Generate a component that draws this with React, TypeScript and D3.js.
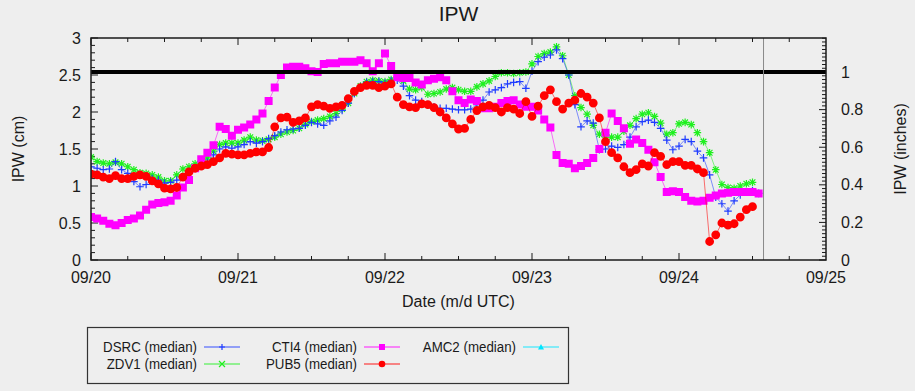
import React from "react";
import * as d3 from "d3";

// hourly medians, first value at 09/20 00 UTC
const startTime = Date.UTC(2019, 8, 20);
const endTime = Date.UTC(2019, 8, 25);
const nowHour = 109.8;
const thresholdInches = 1;

const dsrc = [
  1.26, 1.24, 1.22, 1.23, 1.33, 1.22, 1.17, 1.06, 0.99, 1.02, 1.1, 1.08, 1.04, 1.05, 1.08, 1.12,
  1.18, 1.24, 1.28, 1.32, 1.42, 1.5, 1.53, 1.51, 1.53, 1.56, 1.6, 1.58, 1.6, 1.64, 1.68, 1.73,
  1.76, 1.77, 1.78, 1.82, 1.86, 1.84, 1.82, 1.88, 1.93, 2.02, 2.12, 2.25, 2.34, 2.4, 2.41, 2.41,
  2.39, 2.42, 2.43, 2.35, 2.22, 2.16, 2.14, 2.1, 2.07, 2.05, 2.05, 2.04, 2.03, 2.03, 2.04, 2.1,
  2.16, 2.27, 2.3, 2.33, 2.38, 2.4, 2.41, 2.32, 2.55, 2.68, 2.74, 2.77, 2.84, 2.72, 2.5, 2.1,
  1.8, 1.88, 1.85, 1.49, 1.5, 1.54, 1.52, 1.56, 1.66, 1.8, 1.87, 1.89, 1.86, 1.78, 1.62, 1.49,
  1.54, 1.63, 1.6, 1.47, 1.38, 1.15, 0.85, 0.76, 0.66, 0.8, 0.88, 0.92, 0.94, 0.9,
];

const zdv1 = [
  1.39, 1.33, 1.31, 1.3, 1.32, 1.3, 1.26, 1.22, 1.18, 1.17, 1.15, 1.12, 1.07, 1.07, 1.15, 1.23,
  1.26, 1.3, 1.34, 1.38, 1.47, 1.56, 1.58, 1.58, 1.58, 1.62, 1.66, 1.62, 1.61, 1.63, 1.66, 1.7,
  1.73, 1.75, 1.78, 1.83, 1.87, 1.89, 1.91, 1.94, 1.98, 2.04, 2.12, 2.25, 2.35, 2.41, 2.43, 2.42,
  2.41, 2.44, 2.47, 2.42, 2.31, 2.3, 2.33, 2.24, 2.25, 2.27, 2.31, 2.33, 2.3, 2.28, 2.28, 2.34,
  2.38, 2.42, 2.48, 2.53, 2.53, 2.52, 2.53, 2.54, 2.65, 2.75, 2.79, 2.81, 2.88, 2.76, 2.5, 2.22,
  2.06, 1.97, 1.82, 1.7, 1.66, 1.66, 1.66, 1.74, 1.82, 1.91, 1.97, 1.99, 1.94, 1.85, 1.7, 1.72,
  1.84, 1.86, 1.83, 1.72, 1.6, 1.45, 1.22, 1.02, 0.98, 0.97, 1.0, 1.03, 1.05,
];

const cti4 = [
  0.58, 0.56, 0.53, 0.49, 0.47, 0.5, 0.54, 0.56, 0.6, 0.68, 0.75, 0.77, 0.78, 0.8, 0.87, 0.98,
  1.08, 1.24, 1.36, 1.45, 1.55, 1.8, 1.77, 1.68, 1.76, 1.79, 1.83, 1.9, 1.98, 2.15, 2.33, 2.5,
  2.6, 2.61, 2.61, 2.59, 2.55, 2.54, 2.65, 2.66, 2.66, 2.68, 2.68, 2.68, 2.7, 2.66, 2.55, 2.66,
  2.79, 2.62, 2.47, 2.46, 2.46, 2.4, 2.37, 2.43, 2.45, 2.47, 2.43, 2.28, 2.16, 2.12, 2.17, 2.15,
  2.05, 2.05, 2.07, 2.12, 2.15, 2.16, 2.1, 2.07, 2.07, 2.02, 1.9, 1.79, 1.42, 1.31, 1.3, 1.24,
  1.27, 1.31, 1.38, 1.5, 1.72, 1.98, 1.88, 1.78, 1.57, 1.63, 1.58, 1.49, 1.32, 1.12, 0.92, 0.93,
  0.92, 0.85, 0.8, 0.79, 0.8, 0.84, 0.87, 0.9, 0.91, 0.92, 0.92, 0.92, 0.92, 0.9,
];

const pub5 = [
  1.16, 1.15, 1.12, 1.1, 1.14, 1.1, 1.1, 1.13, 1.15, 1.13, 1.07, 1.03, 0.97, 0.96, 0.98, 1.12,
  1.19, 1.24, 1.27, 1.29, 1.33, 1.38, 1.44, 1.43, 1.42, 1.42, 1.44, 1.46, 1.46, 1.52, 1.8, 1.92,
  1.93, 1.86, 1.88, 1.92, 2.07, 2.1, 2.08, 2.05, 2.07, 2.09, 2.18, 2.28, 2.33, 2.36, 2.36, 2.33,
  2.35, 2.38, 2.2, 2.1, 2.07, 2.06, 2.11, 2.1, 2.06, 2.0, 1.92, 1.84, 1.77, 1.78, 1.9, 2.02,
  2.07, 2.09, 2.06, 2.0, 2.06, 2.04, 1.98, 2.14, 1.94, 2.08, 2.22, 2.3, 2.14, 2.04, 2.12, 2.16,
  2.25, 2.2, 2.12, 1.92, 1.6, 1.45, 1.38, 1.26, 1.18, 1.22, 1.3, 1.27, 1.45, 1.4, 1.29, 1.33,
  1.33, 1.28, 1.28, 1.23, 1.18, 0.25, 0.34, 0.5, 0.47, 0.49, 0.58, 0.68, 0.72,
];

const amc2: number[] = [];

const seriesNames = ["DSRC (median)", "ZDV1 (median)", "CTI4 (median)", "PUB5 (median)", "AMC2 (median)"];
const seriesColors = ["#1f3cff", "#1ef01e", "#ff00ff", "#ff0000", "#00e5ff"];
const seriesShapes = ["plus", "star", "square", "circle", "triangle"];
const legendShapes = ["plus", "times", "square", "circle", "triangle"];
const seriesData = [dsrc, zdv1, cti4, pub5, amc2];
const drawOrder = [1, 0, 2, 3, 4];

const cmTicks = [0, 0.5, 1, 1.5, 2, 2.5, 3];
const inchTicks = [0, 0.2, 0.4, 0.6, 0.8, 1];

const W = 915;
const H = 391;
const margin = { top: 38, right: 89, bottom: 131, left: 91 };
const font = "'Liberation Sans', Arial, Helvetica, sans-serif";
const ink = "#1a1a1a";

function markerPath(shape: string, x: number, y: number, s: number) {
  const plus = `M${x - s},${y}h${2 * s}M${x},${y - s}v${2 * s}`;
  const k = s * 0.75;
  const times = `M${x - k},${y - k}l${2 * k},${2 * k}M${x - k},${y + k}l${2 * k},${-2 * k}`;
  if (shape === "plus") return plus;
  if (shape === "times") return `M${x - s},${y - s}l${2 * s},${2 * s}M${x - s},${y + s}l${2 * s},${-2 * s}`;
  if (shape === "star") return plus + times;
  if (shape === "square") return `M${x - s},${y - s}h${2 * s}v${2 * s}h${-2 * s}Z`;
  if (shape === "triangle") return `M${x},${y - s}L${x + s},${y + s * 0.8}L${x - s},${y + s * 0.8}Z`;
  return `M${x - s},${y}a${s},${s} 0 1,0 ${2 * s},0a${s},${s} 0 1,0 ${-2 * s},0`;
}

const App = () => {
  const x0 = margin.left;
  const x1 = W - margin.right;
  const y0 = H - margin.bottom;
  const y1 = margin.top;

  const x = d3.scaleUtc().domain([new Date(startTime), new Date(endTime)]).range([x0, x1]);
  const y = d3.scaleLinear().domain([0, 3]).range([y0, y1]);
  const yIn = d3.scaleLinear().domain([0, 3 / 2.54]).range([y0, y1]);
  const fmt = d3.utcFormat("%m/%d");
  const hourTime = (i: number) => d3.utcMinute.offset(new Date(startTime), Math.round(i * 60));

  const days = d3.utcDay.range(new Date(startTime), d3.utcHour.offset(new Date(endTime), 1));
  const quarters = d3.utcHour.every(6)!.range(new Date(startTime), new Date(endTime));
  const cmMinor = d3.range(0, 3.001, 0.1);
  const inMinor = d3.range(0, 1.181, 0.02);

  const line = d3
    .line<number>()
    .x((_, i) => x(hourTime(i)))
    .y((d) => y(d));

  const legendCols = [197, 357, 516];
  const legendRows = [347, 364];

  return (
    <svg width={W} height={H} style={{ position: "absolute", left: 0, top: 0, display: "block" }} fontFamily={font}>
      <rect width={W} height={H} fill="#eeeeee" />
      <defs>
        <clipPath id="plotClip">
          <rect x={x0} y={y1} width={x1 - x0} height={y0 - y1} />
        </clipPath>
      </defs>

      <text x={(x0 + x1) / 2} y={21} textAnchor="middle" fontSize={21} fill={ink}>
        IPW
      </text>

      {/* ticks */}
      <g stroke={ink} strokeWidth={1}>
        {quarters.map((t, i) => {
          const major = t.getUTCHours() === 0;
          const len = major ? 7 : 4;
          return (
            <g key={"q" + i}>
              <line x1={x(t)} x2={x(t)} y1={y0} y2={y0 - len} />
              <line x1={x(t)} x2={x(t)} y1={y1} y2={y1 + len} />
            </g>
          );
        })}
        {cmMinor.map((v, i) => {
          const major = Math.abs(v * 2 - Math.round(v * 2)) < 1e-6;
          return <line key={"c" + i} x1={x0} x2={x0 + (major ? 7 : 4)} y1={y(v)} y2={y(v)} />;
        })}
        {inMinor.map((v, i) => {
          const major = Math.abs(v * 5 - Math.round(v * 5)) < 1e-6;
          return <line key={"n" + i} x1={x1} x2={x1 - (major ? 7 : 4)} y1={yIn(v)} y2={yIn(v)} />;
        })}
      </g>

      {/* data */}
      <g clipPath="url(#plotClip)">
        {drawOrder.map((si) => {
          const data = seriesData[si];
          if (!data.length) return null;
          const c = seriesColors[si];
          const shape = seriesShapes[si];
          const filled = shape === "square" || shape === "circle";
          const s = shape === "circle" ? 4.4 : shape === "square" ? 4 : 3.8;
          return (
            <g key={si}>
              <path d={line(data) || ""} fill="none" stroke={c} strokeOpacity={0.55} strokeWidth={1} />
              <path
                d={data.map((v, i) => markerPath(shape, x(hourTime(i)), y(v), s)).join("")}
                fill={filled ? c : "none"}
                stroke={filled ? "none" : c}
                strokeWidth={1.2}
              />
            </g>
          );
        })}
      </g>

      <line x1={x0} x2={x1} y1={yIn(thresholdInches)} y2={yIn(thresholdInches)} stroke="#000" strokeWidth={4} />
      <line
        x1={x(hourTime(nowHour))}
        x2={x(hourTime(nowHour))}
        y1={y1}
        y2={y0}
        stroke="#8a8a8a"
        strokeWidth={1}
      />

      <rect x={x0} y={y1} width={x1 - x0} height={y0 - y1} fill="none" stroke={ink} strokeWidth={1.5} />

      {/* tick labels */}
      <g fontSize={16} fill={ink}>
        {days.map((d, i) => (
          <text key={"d" + i} x={x(d)} y={y0 + 23} textAnchor="middle">
            {fmt(d)}
          </text>
        ))}
        {cmTicks.map((v) => (
          <text key={"l" + v} x={x0 - 10} y={y(v)} dy="0.35em" textAnchor="end">
            {v}
          </text>
        ))}
        {inchTicks.map((v) => (
          <text key={"r" + v} x={x1 + 15} y={yIn(v)} dy="0.35em" textAnchor="start">
            {v}
          </text>
        ))}
      </g>

      <text x={(x0 + x1) / 2} y={307} textAnchor="middle" fontSize={16} fill={ink}>
        Date (m/d UTC)
      </text>
      <text
        transform={`translate(24,${(y0 + y1) / 2}) rotate(-90)`}
        textAnchor="middle"
        fontSize={16}
        fill={ink}
      >
        IPW (cm)
      </text>
      <text
        transform={`translate(906,${(y0 + y1) / 2}) rotate(-90)`}
        textAnchor="middle"
        fontSize={16}
        fill={ink}
      >
        IPW (inches)
      </text>

      {/* legend */}
      <rect x={87.5} y={327.5} width={481} height={56} fill="none" stroke="#333" strokeWidth={1.2} />
      {seriesNames.map((name, i) => {
        const col = Math.floor(i / 2);
        const row = i % 2;
        const tx = legendCols[col];
        const ty = legendRows[row];
        const c = seriesColors[i];
        const shape = legendShapes[i];
        const filled = shape !== "plus" && shape !== "times";
        const lx = tx + 7;
        return (
          <g key={name}>
            <text
              transform={`translate(${tx},${ty}) scale(0.86,1)`}
              dy="0.35em"
              textAnchor="end"
              fontSize={15.5}
              fill={ink}
            >
              {name}
            </text>
            <line x1={lx} x2={lx + 36} y1={ty} y2={ty} stroke={c} strokeOpacity={0.45} strokeWidth={2} />
            <path
              d={markerPath(shape, lx + 18, ty, shape === "circle" ? 3.3 : 3)}
              fill={filled ? c : "none"}
              stroke={filled ? "none" : c}
              strokeWidth={1.2}
            />
          </g>
        );
      })}
    </svg>
  );
};

export default App;
